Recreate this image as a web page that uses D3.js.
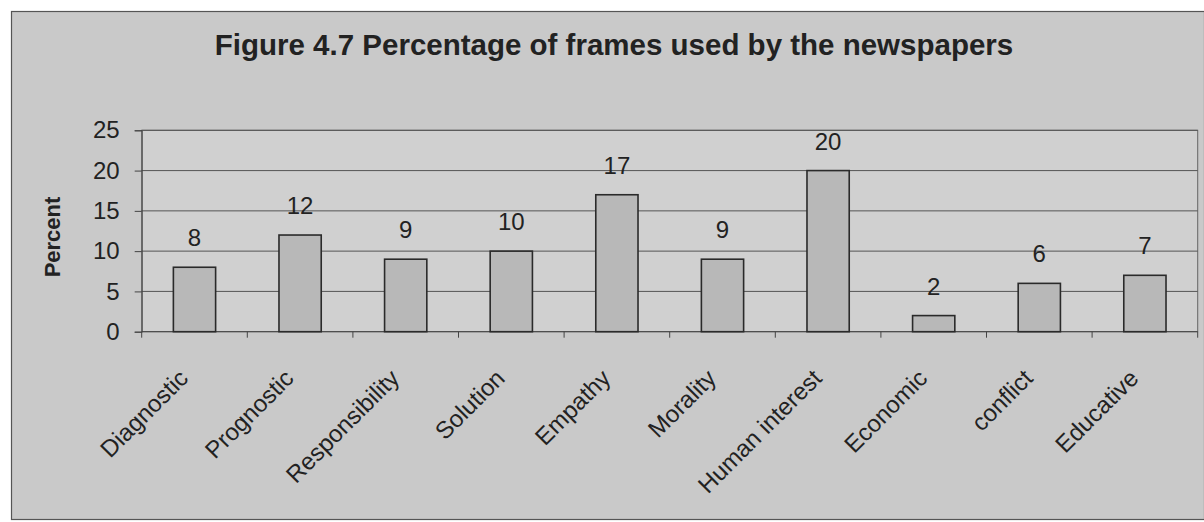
<!DOCTYPE html>
<html>
<head>
<meta charset="utf-8">
<script src="https://cdn.jsdelivr.net/npm/d3@7/dist/d3.min.js"></script>
<style>
  html, body { margin: 0; padding: 0; background: #ffffff; }
  svg { display: block; font-family: "Liberation Sans", Arial, sans-serif; }
</style>
</head>
<body>
<svg id="chart" width="1204" height="522"></svg>
<script>
// Frame categories and their share of coverage (percent)
const categories = ["Diagnostic", "Prognostic", "Responsibility", "Solution", "Empathy",
                    "Morality", "Human interest", "Economic", "conflict", "Educative"];
const percents = [8, 12, 9, 10, 17, 9, 20, 2, 6, 7];
const yTicks = [0, 5, 10, 15, 20, 25];
const titleText = "Figure 4.7 Percentage of frames used by the newspapers";
const yAxisLabel = "Percent";

const svg = d3.select("#chart");
const W = 1204, H = 522;

// Chart area background and frame
svg.append("rect")
  .attr("x", 11.5).attr("y", 11.5)
  .attr("width", W - 11).attr("height", 508)
  .attr("fill", "#c9c9c9").attr("stroke", "#555").attr("stroke-width", 1.2);

const plot = { left: 141.7, right: 1197.7, top: 130.3, bottom: 331.7 };

const x = d3.scaleBand()
  .domain(categories)
  .range([plot.left, plot.right])
  .paddingInner(0.6).paddingOuter(0.3);

const xBounds = d3.scaleLinear()
  .domain([0, categories.length])
  .range([plot.left, plot.right]);

const y = d3.scaleLinear()
  .domain([0, 25])
  .range([plot.bottom, plot.top]);

// Plot area
svg.append("rect")
  .attr("x", plot.left).attr("y", plot.top)
  .attr("width", plot.right - plot.left).attr("height", plot.bottom - plot.top)
  .attr("fill", "#d0d0d0").attr("stroke", "#666").attr("stroke-width", 1);

// Horizontal gridlines
svg.append("g")
  .selectAll("line")
  .data(yTicks.filter(d => d > 0))
  .join("line")
  .attr("x1", plot.left).attr("x2", plot.right)
  .attr("y1", d => y(d)).attr("y2", d => y(d))
  .attr("stroke", "#555").attr("stroke-width", 1);

// Y axis
const yAxis = d3.axisLeft(y).tickValues(yTicks).tickSize(7).tickPadding(15).tickFormat(d3.format("d"));
const gy = svg.append("g")
  .attr("transform", `translate(${plot.left},0)`)
  .call(yAxis);
gy.select(".domain").attr("stroke", "#444");
gy.selectAll(".tick line").attr("stroke", "#444");
gy.selectAll(".tick text")
  .attr("font-size", 24).attr("fill", "#222")
  .attr("font-family", "Liberation Sans, Arial, sans-serif");

// X axis: ticks at category boundaries
const gx = svg.append("g");
gx.append("line")
  .attr("x1", plot.left).attr("x2", plot.right)
  .attr("y1", plot.bottom).attr("y2", plot.bottom)
  .attr("stroke", "#444");
gx.selectAll("line.tk")
  .data(d3.range(categories.length + 1))
  .join("line")
  .attr("class", "tk")
  .attr("x1", d => xBounds(d)).attr("x2", d => xBounds(d))
  .attr("y1", plot.bottom).attr("y2", plot.bottom + 6)
  .attr("stroke", "#444");

// Bars
svg.append("g")
  .selectAll("rect")
  .data(percents)
  .join("rect")
  .attr("x", (d, i) => x(categories[i]))
  .attr("width", x.bandwidth())
  .attr("y", d => y(d))
  .attr("height", d => y(0) - y(d))
  .attr("fill", "#b8b8b8")
  .attr("stroke", "#2a2a2a").attr("stroke-width", 1.6);

// Value labels above bars
svg.append("g")
  .selectAll("text")
  .data(percents)
  .join("text")
  .attr("x", (d, i) => x(categories[i]) + x.bandwidth() / 2)
  .attr("y", d => y(d) - 21)
  .attr("text-anchor", "middle")
  .attr("font-size", 24).attr("fill", "#222")
  .text(d => d);

// Rotated category labels
svg.append("g")
  .selectAll("text")
  .data(categories)
  .join("text")
  .attr("transform", d => `translate(${x(d) + x.bandwidth() / 2 - 5},${plot.bottom + 48}) rotate(-45)`)
  .attr("text-anchor", "end")
  .attr("font-size", 24).attr("fill", "#222")
  .text(d => d);

// Title
svg.append("text")
  .attr("x", 614).attr("y", 55)
  .attr("text-anchor", "middle")
  .attr("font-size", 29.5).attr("font-weight", "bold").attr("fill", "#222")
  .text(titleText);

// Y axis title
svg.append("text")
  .attr("transform", `translate(60,237) rotate(-90)`)
  .attr("text-anchor", "middle")
  .attr("font-size", 22).attr("font-weight", "bold").attr("fill", "#222")
  .text(yAxisLabel);
</script>
</body>
</html>
